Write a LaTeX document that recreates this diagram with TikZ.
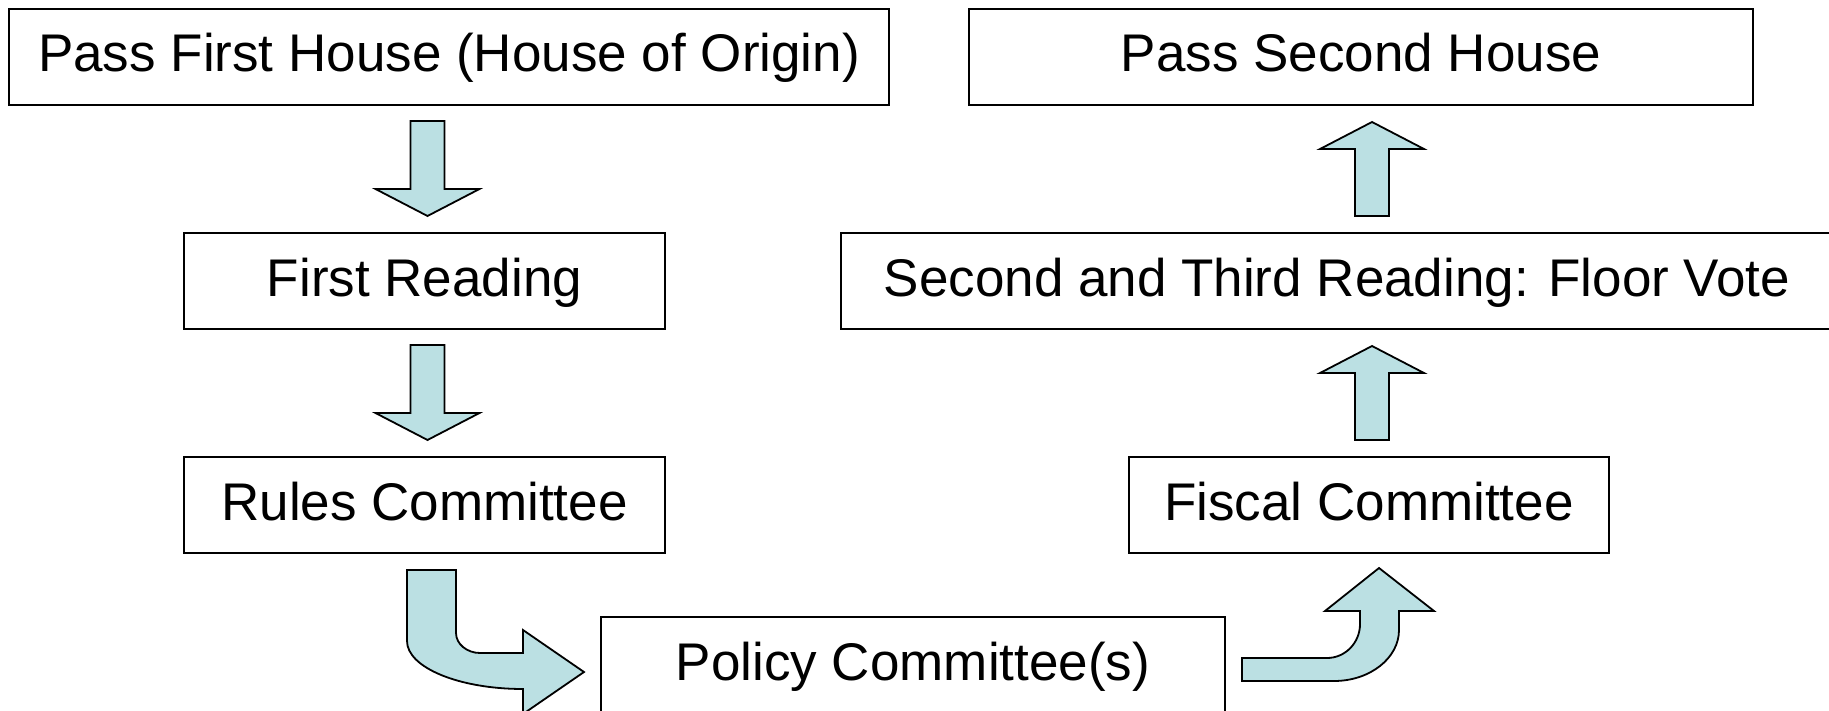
\documentclass[tikz,border=0pt]{standalone}
\usepackage{fontspec}
\setmainfont{Liberation Sans}
\usepackage{tikz}
\usetikzlibrary{positioning, calc}
\definecolor{arrowblue}{HTML}{BBE0E3}

\begin{document}
\begin{tikzpicture}[
  x=0.5pt, y=-0.5pt,
  block/.style={rectangle, draw, line width=1pt, minimum height=48pt, inner sep=0pt, text height=20pt, text depth=5pt, font=\fontsize{26.5}{32}\selectfont},
  bigarrow/.style={draw, line width=0.9pt, line join=miter, fill=arrowblue}
]
  \useasboundingbox (0,0) rectangle (1829,711);

  \node[block, minimum width=440pt] (first) at (449,57) {Pass First House (House of Origin)};
  \node[block, minimum width=392pt] (second) at (1361,57) {Pass Second House};
  \node[block, minimum width=240.5pt] (reading) at (424.5,281) {First Reading};
  \node[block, minimum width=496pt] (floor) at (1337,281) {Second and Third Reading: Floor Vote};
  \node[block, minimum width=240.5pt] (rules) at (424.5,505) {Rules Committee};
  \node[block, minimum width=240pt] (fiscal) at (1369,505) {Fiscal Committee};
  \node[block, minimum width=312pt] (policy) at (913,665) {Policy Committee(s)};

  % down the first house
  \foreach \a/\b in {first/reading, reading/rules} {
    \coordinate (top) at ($(\a.south -| \b.north)+(3,15)$);
    \coordinate (tip) at ($(\b.north)+(3,-16)$);
    \draw[bigarrow] ($(top)+(-17,0)$) -- ($(tip)+(-17,-27)$) -- ($(tip)+(-52,-27)$) -- (tip)
      -- ($(tip)+(52,-27)$) -- ($(tip)+(17,-27)$) -- ($(top)+(17,0)$) -- cycle;
  }

  % up to the second house
  \foreach \a/\b in {fiscal/floor, floor/second} {
    \coordinate (bot) at ($(\a.north -| fiscal.north)+(3,-16)$);
    \coordinate (tip) at ($(\b.south -| fiscal.north)+(3,16)$);
    \draw[bigarrow] ($(bot)+(-17,0)$) -- ($(tip)+(-17,27)$) -- ($(tip)+(-52,27)$) -- (tip)
      -- ($(tip)+(52,27)$) -- ($(tip)+(17,27)$) -- ($(bot)+(17,0)$) -- cycle;
  }

  % rules -> policy
  \coordinate (bendl) at ($(rules.south)+(-17.5,16)$);
  \begin{scope}[shift={(bendl)}]
    \draw[bigarrow] (0,0) -- (0,71) .. controls (0,97.5) and (52,119) .. (116,119) -- (116,144)
      -- (177,102) -- (116,60) -- (116,83) -- (73,83) .. controls (60,83) and (49,74) .. (49,63)
      -- (49,0) -- cycle;
  \end{scope}

  % policy -> fiscal
  \coordinate (bendr) at ($(policy.east)+(16,-7)$);
  \begin{scope}[shift={(bendr)}]
    \draw[bigarrow] (0,0) -- (85,0) .. controls (103,0) and (118,-15) .. (118,-34) -- (118,-47)
      -- (83,-47) -- (137,-90) -- (192,-47) -- (157,-47) -- (157,-28)
      .. controls (157,0) and (128,23) .. (92,23) -- (0,23) -- cycle;
  \end{scope}
\end{tikzpicture}
\end{document}
